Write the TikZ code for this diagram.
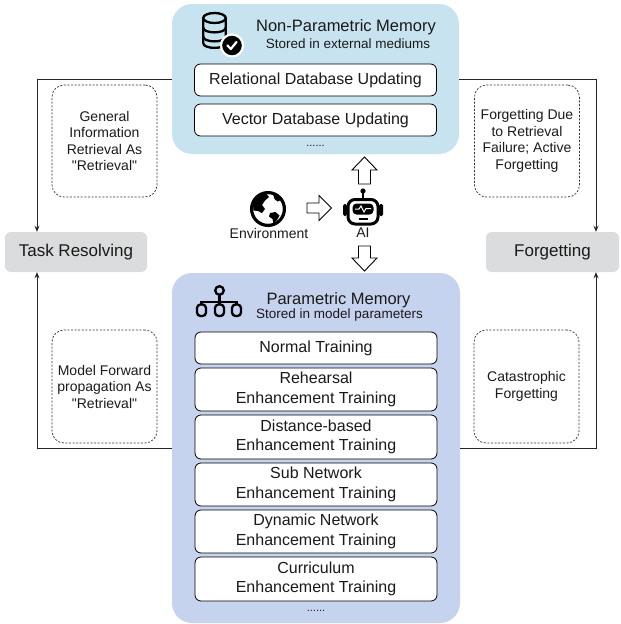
\documentclass[tikz,border=0pt]{standalone}
\usepackage{fontspec}
\setmainfont{Liberation Sans}[Ligatures=TeXOff]
\usetikzlibrary{arrows.meta}
\definecolor{topblue}{HTML}{C8E3F0}
\definecolor{botblue}{HTML}{C6D3EE}
\definecolor{resgray}{HTML}{DADCDD}
\definecolor{txt}{HTML}{1A1A1A}
\newcommand\fsz[2]{\fontsize{#1}{#2}\selectfont}
\begin{document}
\begin{tikzpicture}[x=1pt,y=-1pt,
  container/.style={rounded corners=20pt, inner sep=0pt},
  item/.style={draw=black, line width=0.8pt, fill=white, rounded corners=6pt, minimum width=242pt, inner sep=0pt, align=center, font=\fsz{16}{19.5}, text=txt},
  resbox/.style={fill=resgray, rounded corners=6pt, inner sep=0pt, minimum height=40pt, font=\fsz{17}{20}, text=txt},
  note/.style={draw=black!80, dash pattern=on 2pt off 1.6pt, line width=0.7pt, rounded corners=12pt, minimum width=105pt, minimum height=112pt, inner sep=0pt, align=center, font=\fsz{14}{16.5}, text=txt},
  conn/.style={draw=black!85, line width=0.9pt, -{Stealth[length=6pt,width=5pt]}},
  hollow/.style={draw=black, line width=0.9pt, fill=white, line join=miter},
  dots/.style={font=\fsz{11}{12}, text=txt, inner sep=0pt}
]
\useasboundingbox (0,0) rectangle (621,624);

% containers
\node[container, fill=topblue, minimum width=287pt, minimum height=150pt] (npm) at (315.5,79) {};
\node[container, fill=botblue, minimum width=288pt, minimum height=350pt] (pm) at (316,448) {};

% titles
\node[anchor=base, font=\fsz{16.5}{19}, text=txt, inner sep=0pt] (nptitle) at (346,31.5) {Non-Parametric Memory};
\node[anchor=base, font=\fsz{13.5}{16}, text=txt, inner sep=0pt] (npsub) at (348,48) {Stored in external mediums};
\node[anchor=base, font=\fsz{16.5}{19}, text=txt, inner sep=0pt] (pmtitle) at (338.5,304) {Parametric Memory};
\node[anchor=base, font=\fsz{13.5}{16}, text=txt, inner sep=0pt] (pmsub) at (339.5,318) {Stored in model parameters};

% top items
\node[item, minimum height=32pt] (rdb) at (315.5,80) {Relational Database Updating};
\node[item, minimum height=32pt] (vdb) at (315.5,120) {Vector Database Updating};
\node[dots] (npdots) at (315.5,146) {......};

% bottom items
\node[item, minimum height=32pt] (nt) at (316,348) {Normal Training};
\node[item, minimum height=43pt] (rt) at (316,389.5) {Rehearsal\\Enhancement Training};
\node[item, minimum height=44pt] (dt) at (316,437) {Distance-based\\Enhancement Training};
\node[item, minimum height=43pt] (st) at (316,484.5) {Sub Network\\Enhancement Training};
\node[item, minimum height=43pt] (yt) at (316,531.5) {Dynamic Network\\Enhancement Training};
\node[item, minimum height=44pt] (ct) at (316,579) {Curriculum\\Enhancement Training};
\node[dots] (pmdots) at (316,611) {......};

% side boxes
\node[resbox, minimum width=142pt] (task) at (76,252) {Task Resolving};
\node[resbox, minimum width=133pt] (forget) at (552.5,252) {Forgetting};

% notes
\node[note] (n1) at (104.5,141) {General\\Information\\Retrieval As\\"Retrieval"};
\node[note] (n2) at (527,141) {Forgetting Due\\to Retrieval\\Failure; Active\\Forgetting};
\node[note, minimum height=113pt] (n3) at (104.5,386.5) {Model Forward\\propagation As\\"Retrieval"};
\node[note, minimum height=113pt] (n4) at (526.5,386.5) {Catastrophic\\Forgetting};

% connectors
\coordinate (lcol) at (37,0);
\coordinate (rcol) at (596,0);
\draw[conn] (npm.west) -| (task.north -| lcol);
\draw[conn] (pm.west) -| (task.south -| lcol);
\draw[conn] (npm.east) -| (forget.north -| rcol);
\draw[conn] (pm.east) -| (forget.south -| rcol);

% environment & AI labels
\node[font=\fsz{14}{16}, text=txt, inner sep=0pt] (env) at (269,233) {Environment};
\node[font=\fsz{14}{16}, text=txt, inner sep=0pt] (ai) at (363,233) {AI};

% hollow arrows
\draw[hollow] (307,203) -- (319,203) -- (319,195.5) -- (331.5,208) -- (319,220.5) -- (319,213) -- (307,213) -- cycle;
\draw[hollow] (358.5,184) -- (358.5,170) -- (352,170) -- (364.5,157) -- (377,170) -- (370.5,170) -- (370.5,184) -- cycle;
\draw[hollow] (358.5,246) -- (358.5,258) -- (352,258) -- (364.5,271) -- (377,258) -- (370.5,258) -- (370.5,246) -- cycle;

% globe icon
\begin{scope}[shift={(268,209)}]
  \fill[white] (0,0) circle[radius=16];
  \fill (-15,-5) .. controls (-12,-11) and (-7,-14.5) .. (-2,-15.5) -- (1,-12) -- (-3,-8.5) -- (-6,-4) -- (-3,0) -- (-6,4) -- (-10,2) -- (-14.5,1.5) -- cycle;
  \fill (5,-15) .. controls (9,-14) and (12,-11) .. (13,-9) -- (9.5,-7.5) -- (6.5,-10) -- cycle;
  \fill (2,4) -- (7.5,3) -- (11.5,6.5) -- (9,11) -- (5.5,15) -- (4.5,10) -- (1,7.5) -- cycle;
  \draw[line width=3.2pt] (0,0) circle[radius=16.4];
\end{scope}

% robot icon
\fill (363,191) circle[radius=2.6];
\draw[line width=2pt] (363,191) -- (363,199);
\fill[rounded corners=1.5pt] (343,204) rectangle (346.8,216);
\fill[rounded corners=1.5pt] (379.2,204) rectangle (383,216);
\draw[line width=3pt, rounded corners=7pt, fill=white] (348,199.5) rectangle (378,224);
\fill[rounded corners=4pt] (352.5,203.5) rectangle (373.5,214.5);
\draw[white, line width=1pt] (355,209) -- (359,209) -- (361,206) -- (364,212) -- (366,208.5) -- (371,208.5);
\draw[line width=2pt] (358.5,219) -- (367.5,219);

% database icon
\begin{scope}[line width=2.3pt, line cap=round]
  \draw (214.5,18) ellipse[x radius=11.3, y radius=5];
  \draw (203.2,18) -- (203.2,43) .. controls (203.2,49.5) and (225.8,49.5) .. (225.8,43) -- (225.8,18);
  \draw (203.2,27.5) .. controls (203.2,34) and (225.8,34) .. (225.8,27.5);
  \draw (203.2,36.5) .. controls (203.2,43) and (225.8,43) .. (225.8,36.5);
\end{scope}
\draw[white, line width=2.2pt, fill=black] (232,45.5) circle[radius=11];
\draw[white, line width=2.2pt, line cap=round, line join=round] (227.5,45.5) -- (230.8,49) -- (236.5,42);

% sitemap icon
\begin{scope}[line width=2.3pt]
  \draw (219.5,290.5) circle[radius=4.3];
  \draw (219.5,294.8) -- (219.5,305);
  \draw (201.5,305) -- (201.5,302) -- (236.5,302) -- (236.5,305);
  \draw[rounded corners=3.5pt] (197,304.5) rectangle (206,316);
  \draw[rounded corners=3.5pt] (215,304.5) rectangle (224,316);
  \draw[rounded corners=3.5pt] (232,304.5) rectangle (241,316);
\end{scope}
\end{tikzpicture}
\end{document}
